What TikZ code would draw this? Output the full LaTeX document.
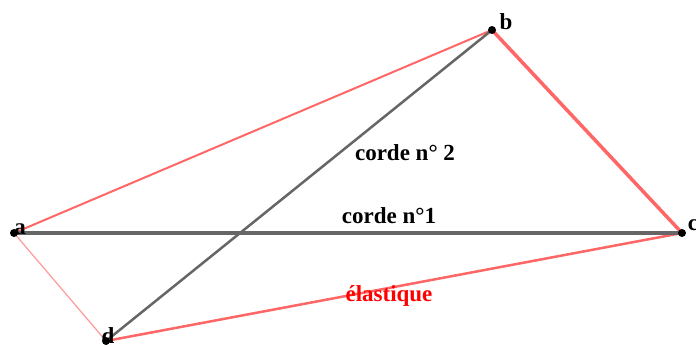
\documentclass[tikz,border=0pt]{standalone}
\usepackage{fontspec}
\setmainfont{Liberation Serif}
\begin{document}
\begin{tikzpicture}[x=1pt,y=-1pt,
  lbl/.style={font=\fontsize{23}{25}\selectfont\bfseries,inner sep=0pt},
  pt/.style={circle,fill=black,inner sep=0pt,minimum size=8pt},
  chord/.style={draw=black!60,line width=3.5pt},
  chord2/.style={draw=black!60,line width=2.5pt},
  elas/.style={draw=red!60,line cap=round}]
\useasboundingbox (0,0) rectangle (696,347);
\coordinate (a) at (14,233);
\coordinate (b) at (492,30);
\coordinate (c) at (682,233);
\coordinate (d) at (106,341);
\draw[elas,line width=2pt] (a) -- (b);
\draw[elas,line width=3.5pt] (b) -- (c);
\draw[elas,line width=2.5pt] (c) -- (d);
\draw[elas,line width=1.2pt,draw=red!40] (d) -- (a);
\draw[chord] (a) -- (c);
\draw[chord2] (d) -- (b);
\node[pt] (pa) at (a) {};
\node[pt] (pb) at (b) {};
\node[pt] (pc) at (c) {};
\node[pt] (pd) at (d) {};
\node[lbl] (la) at (20,229) {a};
\node[lbl] (lb) at (506,22) {b};
\node[lbl] (lc) at (693,225) {c};
\node[lbl] (ld) at (108,336) {d};
\node[lbl] (t2) at (405,153) {corde n° 2};
\node[lbl] (t1) at (389,216) {corde n°1};
\node[lbl,text=red] (te) at (389,296) {élastique};
\end{tikzpicture}
\end{document}
